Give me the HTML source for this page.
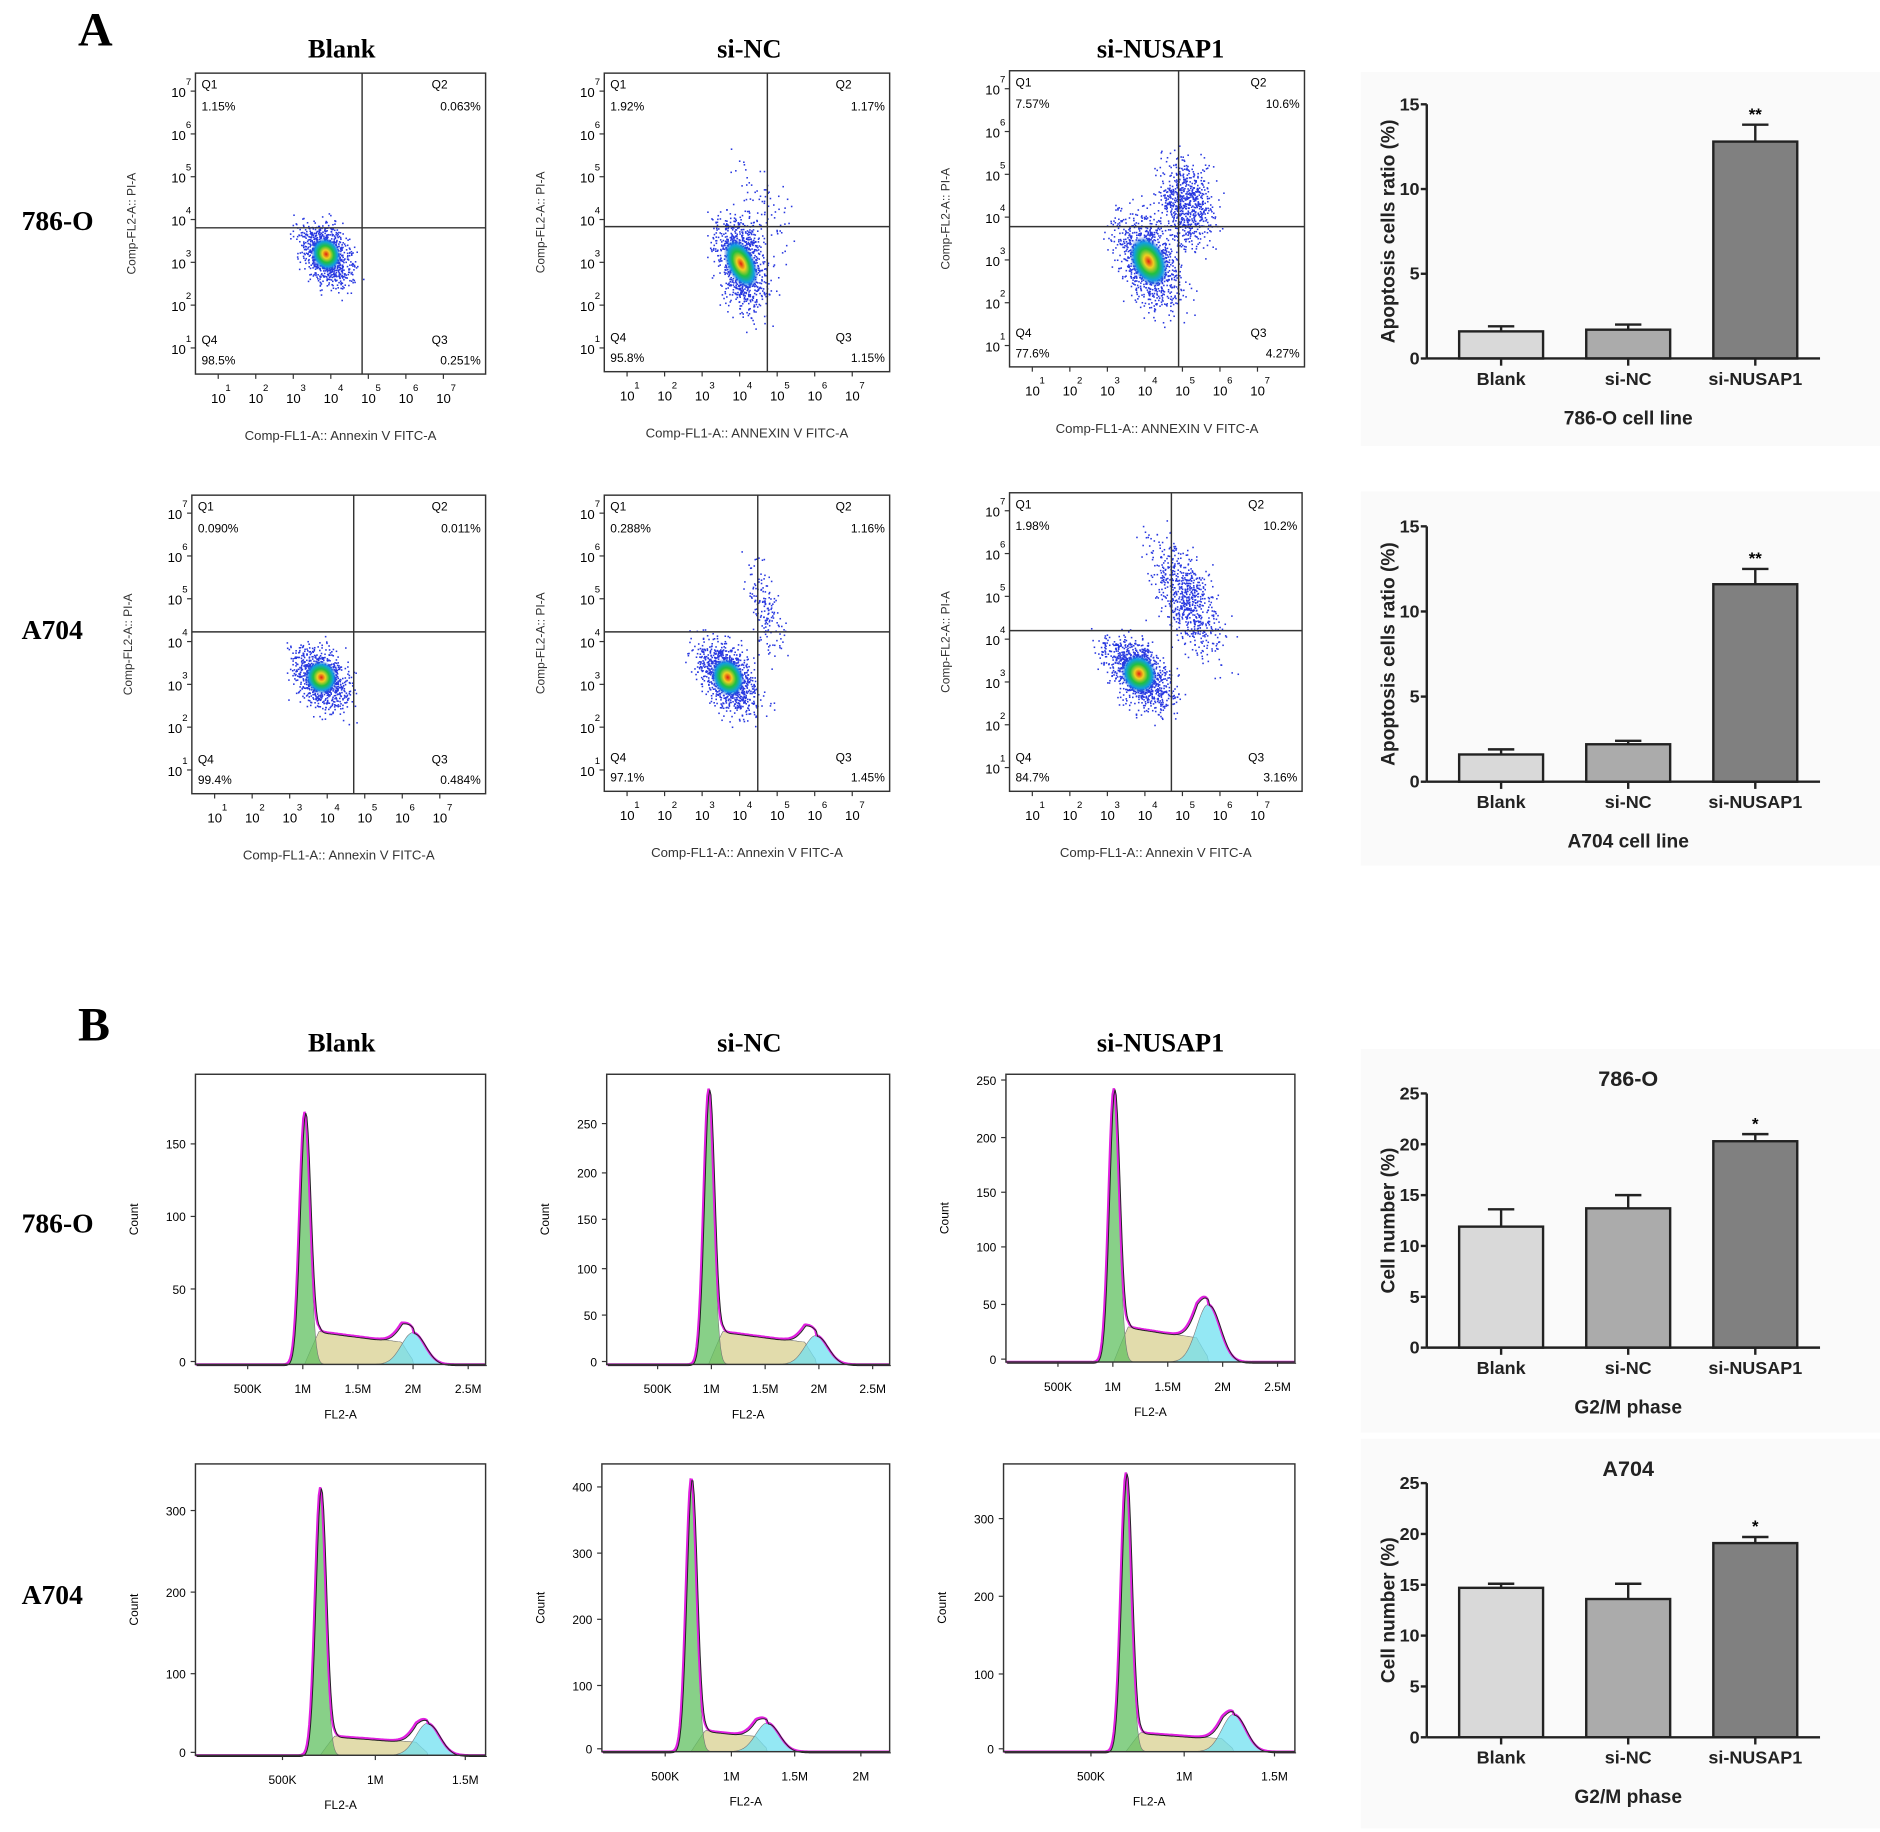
<!DOCTYPE html>
<html><head><meta charset="utf-8"><style>
html,body{margin:0;padding:0;background:#fff;}
svg{display:block;}
text{font-family:"Liberation Sans",Arial,sans-serif;}
.serif{font-family:"Liberation Serif","Times New Roman",serif;font-weight:bold;}
</style></head><body>
<svg id="fig" xmlns="http://www.w3.org/2000/svg" width="1880" height="1832" viewBox="0 0 1568 1528">
<defs>
<radialGradient id="core" cx="50%" cy="50%" r="50%">
<stop offset="0" stop-color="#e02010"/><stop offset="0.25" stop-color="#f0d020"/><stop offset="0.5" stop-color="#20c040"/><stop offset="0.75" stop-color="#10a0e0"/><stop offset="1" stop-color="#2040e0" stop-opacity="0"/>
</radialGradient>
</defs>
<rect width="1568" height="1528" fill="#fff"/>
<text class="serif" x="65" y="38" font-size="40">A</text>
<text class="serif" x="65" y="868" font-size="40">B</text>
<g id="root"></g>
</svg>
<script>
// ---------- data ----------
var groups = ["Blank","si-NC","si-NUSAP1"];
var apopt786 = [1.6, 1.7, 12.8];
var apopt786Err = [0.3, 0.3, 1.0];
var apoptA704 = [1.6, 2.2, 11.6];
var apoptA704Err = [0.3, 0.2, 0.9];
var g2m786 = [11.9, 13.7, 20.3];
var g2m786Err = [1.7, 1.3, 0.7];
var g2mA704 = [14.7, 13.6, 19.1];
var g2mA704Err = [0.4, 1.5, 0.6];
var apoptTicks = [0,5,10,15];
var g2mTicks = [0,5,10,15,20,25];
var quad786 = [["1.15%","0.063%","0.251%","98.5%"],["1.92%","1.17%","1.15%","95.8%"],["7.57%","10.6%","4.27%","77.6%"]];
var quadA704 = [["0.090%","0.011%","0.484%","99.4%"],["0.288%","1.16%","1.45%","97.1%"],["1.98%","10.2%","3.16%","84.7%"]];
// histogram peak params (fraction of plot): g1 pos, g1 height, S level, g2 pos, g2 height
var hist786 = [[0.376,0.87,0.12,0.75,0.11],[0.36,0.95,0.12,0.74,0.10],[0.373,0.95,0.13,0.70,0.20]];
var histA704 = [[0.43,0.92,0.07,0.80,0.11],[0.31,0.95,0.08,0.575,0.10],[0.42,0.97,0.07,0.79,0.13]];

var NS="http://www.w3.org/2000/svg";
var root=document.getElementById('root');
function el(tag,attrs,parent,txt){var e=document.createElementNS(NS,tag);for(var k in attrs)e.setAttribute(k,attrs[k]);if(txt!==undefined)e.textContent=txt;(parent||root).appendChild(e);return e;}
var seed=12345;function rnd(){seed=(seed*1103515245+12345)%2147483648;return seed/2147483648;}
function gauss(){return (rnd()+rnd()+rnd()+rnd()-2)/0.58;}

var colX=[285,625,968];
[0,1,2].forEach(function(i){
 var t=el('text',{x:colX[i],y:48,'font-size':22,'text-anchor':'middle','class':'serif'},root,groups[i]);
 
 var t2=el('text',{x:colX[i],y:877,'font-size':22,'text-anchor':'middle','class':'serif'},root,groups[i]);
 
});
[[18,192,'786-O'],[18,533,'A704'],[18,1028,'786-O'],[18,1338,'A704']].forEach(function(r,i){
 var t=el('text',{x:r[0],y:r[1],'font-size':23,'class':'serif'},root,r[2]);
 
});

// ---------- scatter ----------
function scatter(box,qx,qy,ql,clusters,xlab,name){
 var g=el('g',{});
 var x0=box[0],y0=box[1],x1=box[2],y1=box[3];
 clusters.forEach(function(c){
  for(var i=0;i<c[4];i++){
   var dx=gauss()*c[2],dy=gauss()*c[3];var px=c[0]+dx+dy*c[5],py=c[1]+dy;
   if(px<x0+2||px>x1-2||py<y0+2||py>y1-2)continue;
   el('rect',{x:px,y:py,width:1.3,height:1.3,fill:'#2838e0'},g);
  }
  if(c[6]){el('ellipse',{cx:c[0],cy:c[1],rx:c[2]*1.2,ry:c[3]*1.1,fill:'url(#core)',transform:'rotate(-25 '+c[0]+' '+c[1]+')'},g);}
 });
 el('rect',{x:x0,y:y0,width:x1-x0,height:y1-y0,fill:'none',stroke:'#333','stroke-width':1.2},g);
 el('line',{x1:qx,y1:y0,x2:qx,y2:y1,stroke:'#333','stroke-width':1.2},g);
 el('line',{x1:x0,y1:qy,x2:x1,y2:qy,stroke:'#333','stroke-width':1.2},g);
 var fs=10;
 el('text',{x:x0+5,y:y0+13,'font-size':fs},g,'Q1');el('text',{x:x0+5,y:y0+31,'font-size':fs},g,ql[0]);
 el('text',{x:x1-45,y:y0+13,'font-size':fs},g,'Q2');el('text',{x:x1-4,y:y0+31,'font-size':fs,'text-anchor':'end'},g,ql[1]);
 el('text',{x:x1-45,y:y1-25,'font-size':fs},g,'Q3');el('text',{x:x1-4,y:y1-8,'font-size':fs,'text-anchor':'end'},g,ql[2]);
 el('text',{x:x0+5,y:y1-25,'font-size':fs},g,'Q4');el('text',{x:x0+5,y:y1-8,'font-size':fs},g,ql[3]);
 for(var k=1;k<=7;k++){
  var ty=y0+15+(7-k)*35.7;
  el('line',{x1:x0-4,y1:ty,x2:x0,y2:ty,stroke:'#333'},g);
  el('text',{x:x0-8,y:ty+5,'font-size':11,'text-anchor':'end'},g,'10');
  el('text',{x:x0-8,y:ty-5,'font-size':8},g,String(k));
  var tx=x0+19+(k-1)*31.3;
  el('line',{x1:tx,y1:y1,x2:tx,y2:y1+4,stroke:'#333'},g);
  el('text',{x:tx-6,y:y1+24,'font-size':11},g,'10');
  el('text',{x:tx+6,y:y1+14,'font-size':8},g,String(k));
 }
 el('text',{x:(x0+x1)/2,y:y1+55,'font-size':11,'text-anchor':'middle',fill:'#333'},g,xlab);
 el('text',{x:0,y:0,'font-size':10,'text-anchor':'middle',fill:'#333',transform:'translate('+(x0-50)+','+((y0+y1)/2)+') rotate(-90)'},g,'Comp-FL2-A:: PI-A');
}
scatter([163,61,405,312],302,190,quad786[0],[[272,212,10,13,900,0.3,1]],'Comp-FL1-A:: Annexin V FITC-A','scatter-786-blank');
scatter([504,61,742,310],640,189,quad786[1],[[618,220,10,20,1000,0.2,1],[636,175,10,20,80,0.3,0]],'Comp-FL1-A:: ANNEXIN V FITC-A','scatter-786-sinc');
scatter([842,59,1088,306],983,189,quad786[2],[[958,218,12,20,1000,0.3,1],[990,170,11,18,700,0.1,0]],'Comp-FL1-A:: ANNEXIN V FITC-A','scatter-786-sinusap1');
scatter([160,413,405,662],295,527,quadA704[0],[[268,565,11,13,900,0.3,1]],'Comp-FL1-A:: Annexin V FITC-A','scatter-a704-blank');
scatter([504,413,742,660],632,527,quadA704[1],[[607,565,11,15,1000,0.4,1],[638,510,6,20,160,0.2,0]],'Comp-FL1-A:: Annexin V FITC-A','scatter-a704-sinc');
scatter([842,411,1086,660],977,526,quadA704[2],[[950,562,12,15,1100,0.5,1],[990,500,11,24,700,0.4,0]],'Comp-FL1-A:: Annexin V FITC-A','scatter-a704-sinusap1');

// ---------- histograms ----------
function hist(box,p,xt,yt,name){
 var g=el('g',{});
 var x0=box[0],y0=box[1],x1=box[2],y1=box[3],W=x1-x0,H=y1-y0;
 function G(x,c,w){return Math.exp(-Math.pow((x-c)/w,2)/2);}
 var g1=[],s=[],g2=[],tot=[];
 for(var i=0;i<=W;i+=1){var f=i/W;
  var a=p[1]*G(f,p[0],0.018);
  var b=(f>p[0]&&f<p[3])?p[2]*(1-0.4*(f-p[0])/(p[3]-p[0])):0;
  b*=Math.min(1,Math.max(0,(f-p[0])/0.05))*Math.min(1,Math.max(0,(p[3]-f)/0.05)+0.2);
  var c=p[4]*G(f,p[3],0.04);
  g1.push([x0+i,y1-a*H]);s.push([x0+i,y1-b*H]);g2.push([x0+i,y1-c*H]);tot.push([x0+i,y1-(a+b+c)*H]);}
 function area(pts,fill){var d='M'+x0+','+y1;pts.forEach(function(q){d+='L'+q[0].toFixed(1)+','+q[1].toFixed(1);});d+='L'+x1+','+y1+'Z';el('path',{d:d,fill:fill,stroke:'#777','stroke-width':0.5,'fill-opacity':0.75},g);}
 area(s,'#d8d090');area(g2,'#70e0f0');area(g1,'#60c060');
 var d='';tot.forEach(function(q,i){d+=(i?'L':'M')+q[0].toFixed(1)+','+q[1].toFixed(1);});
 el('path',{d:d,fill:'none',stroke:'#e020e0','stroke-width':2},g);
 el('path',{d:d,fill:'none',stroke:'#222','stroke-width':0.8,transform:'translate(1,1)'},g);
 el('rect',{x:x0,y:y0,width:W,height:H,fill:'none',stroke:'#333','stroke-width':1.2},g);
 xt.forEach(function(t){var tx=x0+t[0]*W;el('line',{x1:tx,y1:y1,x2:tx,y2:y1+4,stroke:'#333'},g);el('text',{x:tx,y:y1+24,'font-size':10,'text-anchor':'middle'},g,t[1]);});
 yt.forEach(function(t){var ty=y1-t[0]*H;el('line',{x1:x0-4,y1:ty,x2:x0,y2:ty,stroke:'#333'},g);el('text',{x:x0-8,y:ty+4,'font-size':10,'text-anchor':'end'},g,t[1]);});
 el('text',{x:(x0+x1)/2,y:y1+45,'font-size':10,'text-anchor':'middle'},g,'FL2-A');
 el('text',{x:0,y:0,'font-size':10,'text-anchor':'middle',transform:'translate('+(x0-48)+','+((y0+y1)/2)+') rotate(-90)'},g,'Count');
}
var xtA=[[0.18,'500K'],[0.37,'1M'],[0.56,'1.5M'],[0.75,'2M'],[0.94,'2.5M']];
hist([163,896,405,1138],hist786[0],xtA,[[0.01,'0'],[0.26,'50'],[0.51,'100'],[0.76,'150']],'hist-786-blank');
hist([506,896,742,1138],hist786[1],xtA,[[0.01,'0'],[0.17,'50'],[0.33,'100'],[0.5,'150'],[0.66,'200'],[0.83,'250']],'hist-786-sinc');
hist([839,896,1080,1136],hist786[2],xtA,[[0.01,'0'],[0.2,'50'],[0.4,'100'],[0.59,'150'],[0.78,'200'],[0.98,'250']],'hist-786-sinusap1');
hist([163,1221,405,1464],histA704[0],[[0.3,'500K'],[0.62,'1M'],[0.93,'1.5M']],[[0.01,'0'],[0.28,'100'],[0.56,'200'],[0.84,'300']],'hist-a704-blank');
hist([502,1221,742,1461],histA704[1],[[0.22,'500K'],[0.45,'1M'],[0.67,'1.5M'],[0.9,'2M']],[[0.01,'0'],[0.23,'100'],[0.46,'200'],[0.69,'300'],[0.92,'400']],'hist-a704-sinc');
hist([837,1221,1080,1461],histA704[2],[[0.3,'500K'],[0.62,'1M'],[0.93,'1.5M']],[[0.01,'0'],[0.27,'100'],[0.54,'200'],[0.81,'300']],'hist-a704-sinusap1');

// ---------- bar charts ----------
var barFill=['#d9d9d9','#ababab','#808080'];
function bars(panel,ax,yBot,yTop,vmax,ticks,vals,errs,stars,ytitle,xtitle,title,name){
 var g=el('g',{});
 el('rect',{x:panel[0],y:panel[1],width:panel[2],height:panel[3],fill:'#fafafa'},g);
 function Y(v){return yBot-(v/vmax)*(yBot-yTop);}
 var cx=[1252,1358,1464];
 vals.forEach(function(v,i){
  var b=el('rect',{x:cx[i]-35,y:Y(v),width:70,height:yBot-Y(v),fill:barFill[i],stroke:'#222','stroke-width':2},g);
  
  
  el('line',{x1:cx[i],y1:Y(v),x2:cx[i],y2:Y(v+errs[i]),stroke:'#222','stroke-width':2},g);
  el('line',{x1:cx[i]-11,y1:Y(v+errs[i]),x2:cx[i]+11,y2:Y(v+errs[i]),stroke:'#222','stroke-width':2},g);
  if(stars[i])el('text',{x:cx[i],y:Y(v+errs[i])-4,'font-size':14,'font-weight':'bold','text-anchor':'middle'},g,stars[i]);
  el('text',{x:cx[i],y:yBot+22,'font-size':15,'font-weight':'bold','text-anchor':'middle',fill:'#222'},g,groups[i]);
 });
 el('line',{x1:ax,y1:yTop,x2:ax,y2:yBot,stroke:'#222','stroke-width':2},g);
 el('line',{x1:ax,y1:yBot,x2:1518,y2:yBot,stroke:'#222','stroke-width':2},g);
 cx.forEach(function(c){el('line',{x1:c,y1:yBot,x2:c,y2:yBot+6,stroke:'#222','stroke-width':2},g);});
 ticks.forEach(function(t){el('line',{x1:ax-5,y1:Y(t),x2:ax,y2:Y(t),stroke:'#222','stroke-width':2},g);el('text',{x:ax-6,y:Y(t)+5,'font-size':15,'font-weight':'bold','text-anchor':'end',fill:'#222'},g,String(t));});
 el('text',{x:1358,y:yBot+55,'font-size':16,'font-weight':'bold','text-anchor':'middle',fill:'#222'},g,xtitle);
 if(title)el('text',{x:1358,y:yTop-6,'font-size':18,'font-weight':'bold','text-anchor':'middle',fill:'#222'},g,title);
 el('text',{x:0,y:0,'font-size':16,'font-weight':'bold','text-anchor':'middle',fill:'#222',transform:'translate(1163,'+((yTop+yBot)/2)+') rotate(-90)'},g,ytitle);
}
bars([1135,60,433,312],1190,299,87,15,apoptTicks,apopt786,apopt786Err,['','','**'],'Apoptosis cells ratio (%)','786-O cell line',null,'bar-chart-apoptosis-786');
bars([1135,410,433,312],1190,652,439,15,apoptTicks,apoptA704,apoptA704Err,['','','**'],'Apoptosis cells ratio (%)','A704 cell line',null,'bar-chart-apoptosis-a704');
bars([1135,875,433,320],1190,1124,912,25,g2mTicks,g2m786,g2m786Err,['','','*'],'Cell number (%)','G2/M phase','786-O','bar-chart-g2m-786');
bars([1135,1200,433,325],1190,1449,1237,25,g2mTicks,g2mA704,g2mA704Err,['','','*'],'Cell number (%)','G2/M phase','A704','bar-chart-g2m-a704');
</script>
</body></html>
